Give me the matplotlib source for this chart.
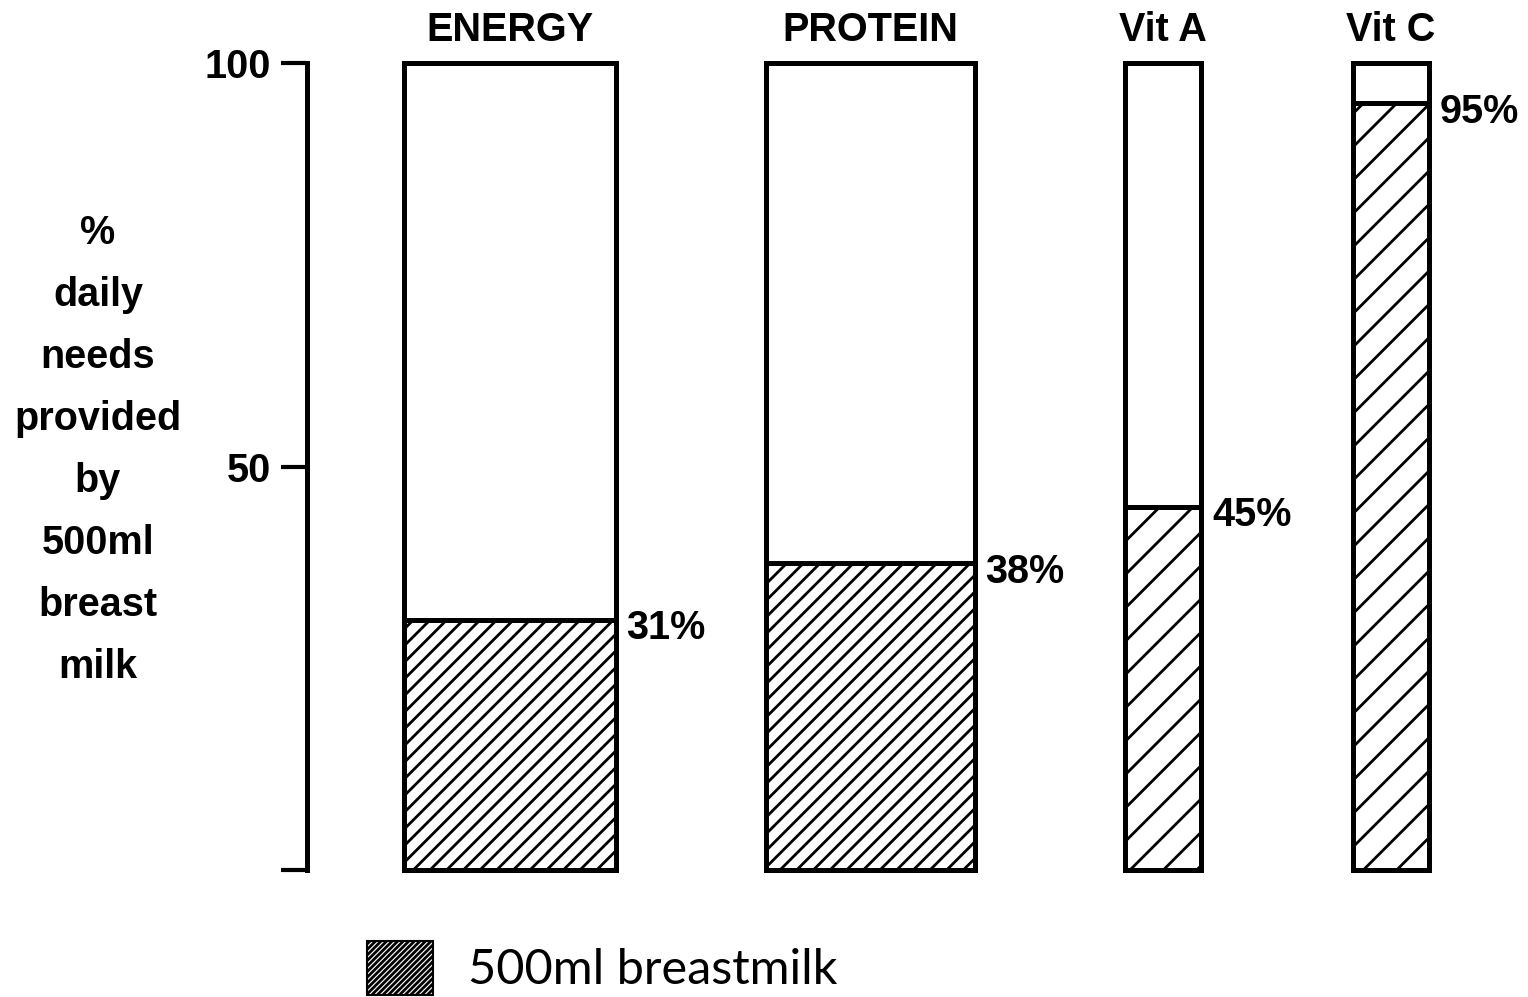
import matplotlib
matplotlib.use('Agg')
import matplotlib.pyplot as plt
from matplotlib.patches import Patch

nutrients = ['ENERGY', 'PROTEIN', 'Vit A', 'Vit C']
provided = [31, 38, 45, 95]   # % of daily needs from 500ml breast milk
pct_labels = ['31%', '38%', '45%', '95%']

# layout (axis units are pixels of the original picture)
centers = [510, 870, 1163, 1391]
widths = [211, 209, 76, 76]
hatches = ['//', '//', '/', '/']

plt.rcParams['font.family'] = ['Liberation Sans', 'DejaVu Sans']
plt.rcParams['font.weight'] = 'bold'
plt.rcParams['hatch.linewidth'] = 2.0

W, H = 1528, 997
fig = plt.figure(figsize=(W / 100, H / 100), dpi=100)
ax = fig.add_axes([307 / W, 1 - 870 / H, 1 - 307 / W, (870 - 63) / H])
ax.set_xlim(307, 1528)
ax.set_ylim(0, 100)

for c, w, v, h in zip(centers, widths, provided, hatches):
    ax.bar(c, 100, width=w, bottom=0, color='white', edgecolor='black',
           linewidth=3.6, zorder=2, clip_on=False)
    ax.bar(c, v, width=w, bottom=0, color='white', edgecolor='black',
           hatch=h, linewidth=3.6, zorder=3, clip_on=False)

for c, w, v, t in zip(centers, widths, provided, pct_labels):
    ax.annotate(t, (c + w / 2, v), xytext=(8, -6), textcoords='offset points',
                ha='left', va='center', fontsize=28.5, fontweight='bold')

for s in ['top', 'right', 'bottom']:
    ax.spines[s].set_visible(False)
ax.spines['left'].set_linewidth(3.6)

ax.set_yticks([0, 50, 100])
ax.set_yticklabels(['', '50', '100'], fontsize=28.5, fontweight='bold')
ax.tick_params(axis='y', direction='out', length=19, width=3, pad=7)

ax.set_xticks(centers)
ax.set_xticklabels(nutrients, fontsize=28.5, fontweight='bold')
ax.tick_params(axis='x', top=True, labeltop=True, bottom=False,
               labelbottom=False, length=0, pad=10)

fig.text(98 / W, 1 - 450 / H,
         '%\ndaily\nneeds\nprovided\nby\n500ml\nbreast\nmilk',
         ha='center', va='center', fontsize=28.5, fontweight='bold',
         linespacing=1.8)

swatch = Patch(facecolor='white', edgecolor='black', hatch='//////',
               linewidth=1.5, label='500ml breastmilk')
leg = fig.legend(handles=[swatch], loc='center left',
                 bbox_to_anchor=(367 / W, 1 - 968 / H), frameon=False,
                 borderpad=0, borderaxespad=0, handlelength=1.35,
                 handleheight=1.35, handletextpad=0.72,
                 prop={'family': 'Lato', 'weight': 'normal', 'size': 35})

fig.savefig('out.png', dpi=100)
